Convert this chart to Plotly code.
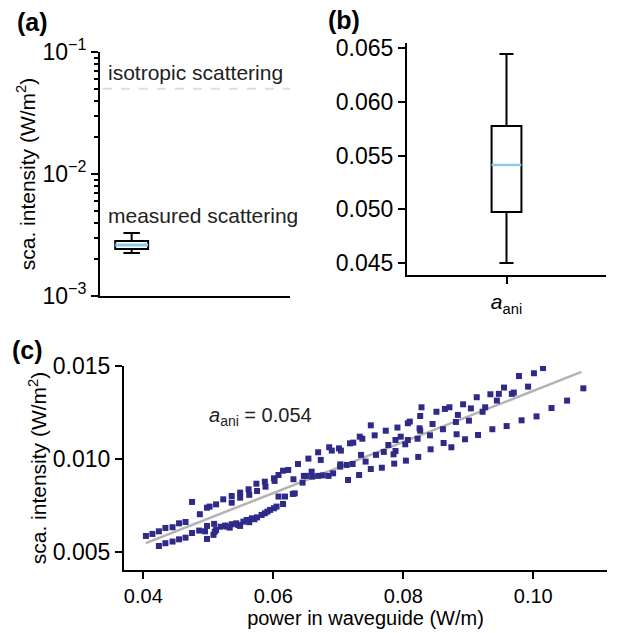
import math
import plotly.graph_objects as go

# ---------------- data ----------------
# panel (a): box statistics of measured scattering intensity (W/m^2)
meas_labels = ["lowerfence", "q1", "median", "q3", "upperfence"]
meas_values = [0.00225, 0.00243, 0.00262, 0.00282, 0.00328]
iso_value = 0.05  # isotropic scattering level

# panel (b): box statistics of a_ani
aani_values = [0.0450, 0.04974, 0.05412, 0.05774, 0.06444]

# panel (c): scattered intensity vs power in waveguide
power = [
    0.0404, 0.0414, 0.0424, 0.0434, 0.0445, 0.0455, 0.0465, 0.0475, 0.0487, 0.0498,
    0.0502, 0.0512, 0.0523, 0.0536, 0.0536, 0.0549, 0.0549, 0.0562, 0.0563, 0.0574,
    0.0575, 0.0587, 0.0588, 0.0601, 0.0602, 0.0608, 0.0615, 0.0623, 0.0631, 0.0638,
    0.0654, 0.0669, 0.0673, 0.0686, 0.0690, 0.0701, 0.0704, 0.0718, 0.0723, 0.0733,
    0.0737, 0.0750, 0.0756,
    0.0424, 0.0434, 0.0445, 0.0455, 0.0465, 0.0475, 0.0486, 0.0495, 0.0498, 0.0498,
    0.0509, 0.0510, 0.0508, 0.0512, 0.0519, 0.0526, 0.0529, 0.0533, 0.0536, 0.0543,
    0.0546, 0.0549, 0.0554, 0.0559, 0.0563, 0.0567, 0.0571, 0.0575, 0.0582, 0.0587,
    0.0591, 0.0595, 0.0601, 0.0605, 0.0608, 0.0615, 0.0618, 0.0630, 0.0633, 0.0645,
    0.0647, 0.0651, 0.0659, 0.0660, 0.0669, 0.0676, 0.0685, 0.0692, 0.0703, 0.0703,
    0.0713, 0.0715, 0.0722, 0.0732, 0.0735, 0.0750, 0.0758,
    0.0773, 0.0791, 0.0807, 0.0810, 0.0828, 0.0826, 0.0825, 0.0826, 0.0845, 0.0851,
    0.0864, 0.0871, 0.0861, 0.0884, 0.0881, 0.0892, 0.0904, 0.0901, 0.0913, 0.0922,
    0.0926, 0.0934, 0.0947, 0.0944, 0.0955, 0.0967, 0.0970, 0.0978, 0.0992, 0.1001,
    0.1015,
    0.0788, 0.0796, 0.0807, 0.0803, 0.0822, 0.0841, 0.0882, 0.0895, 0.0915, 0.0937,
    0.0959, 0.0982, 0.1005, 0.1028, 0.1052, 0.1077,
    0.0788, 0.0785, 0.0770, 0.0767, 0.0786, 0.0804, 0.0823, 0.0842, 0.0862, 0.0874,
    0.0777, 0.0742,
]
intensity = [
    0.00586, 0.00597, 0.00611, 0.00629, 0.00633, 0.00654, 0.00661, 0.00769, 0.00703, 0.00738,
    0.00744, 0.00756, 0.00783, 0.00801, 0.00765, 0.00819, 0.00792, 0.00837, 0.00807, 0.00867,
    0.00828, 0.00878, 0.00851, 0.00896, 0.00882, 0.00914, 0.00937, 0.00941, 0.00891, 0.00973,
    0.01002, 0.01036, 0.00995, 0.01063, 0.01045, 0.01057, 0.01045, 0.01084, 0.01088, 0.01120,
    0.01109, 0.01181, 0.01127,
    0.00532, 0.00547, 0.00556, 0.00568, 0.00577, 0.00602, 0.00615, 0.00611, 0.00570, 0.00640,
    0.00651, 0.00609, 0.00592, 0.00618, 0.00636, 0.00642, 0.00636, 0.00631, 0.00649, 0.00654,
    0.00645, 0.00640, 0.00663, 0.00672, 0.00660, 0.00681, 0.00676, 0.00686, 0.00699, 0.00708,
    0.00717, 0.00726, 0.00735, 0.00744, 0.00798, 0.00758, 0.00798, 0.00812, 0.00815, 0.00873,
    0.00909, 0.00909, 0.00932, 0.00905, 0.00909, 0.00912, 0.00909, 0.00923, 0.00959, 0.00971,
    0.00968, 0.00887, 0.00973, 0.00914, 0.01022, 0.00946, 0.01022,
    0.01152, 0.01169, 0.01192, 0.01201, 0.01278, 0.01231, 0.01165, 0.01152, 0.01188, 0.01254,
    0.01269, 0.01278, 0.01160, 0.01237, 0.01199, 0.01294, 0.01272, 0.01206, 0.01332, 0.01254,
    0.01278, 0.01348, 0.01350, 0.01314, 0.01384, 0.01350, 0.01357, 0.01446, 0.01389, 0.01461,
    0.01489,
    0.01102, 0.01120, 0.01102, 0.01079, 0.01109, 0.01127, 0.01133, 0.01106, 0.01129, 0.01160,
    0.01177, 0.01208, 0.01229, 0.01274, 0.01314, 0.01380,
    0.01043, 0.01025, 0.01038, 0.00953, 0.00975, 0.00991, 0.01011, 0.01052, 0.01086, 0.01063,
    0.01075, 0.00986,
]
fit_power = [0.0404, 0.1074]
fit_intensity = [0.00548, 0.01468]
aani_fit = 0.054

log_ticks = [0.001, 0.01, 0.1]
log_ticktext = ["10<sup>\u22123</sup>", "10<sup>\u22122</sup>", "10<sup>\u22121</sup>"]
b_ticks = [0.045, 0.050, 0.055, 0.060, 0.065]
c_xticks = [0.04, 0.06, 0.08, 0.10]
c_yticks = [0.005, 0.010, 0.015]

# ---------------- styles ----------------
FONT = "Liberation Sans, Arial, Helvetica, sans-serif"
FS = 20      # x title / texts
FST = 21     # y titles
FSY = 23     # y tick labels
FSX = 20     # x tick labels
MEDIAN_C = "#87CEEB"
DOT_C = "#2E2B88"
W = 618
H = 633

def px_x(p):
    return p / W

def px_y(p):
    return 1 - p / H

fig = go.Figure()

# ---- panel (a) ----
box_w_a = 0.52
fig.add_trace(go.Box(
    x=[0], lowerfence=[meas_values[0]], q1=[meas_values[1]], median=[meas_values[2]],
    q3=[meas_values[3]], upperfence=[meas_values[4]],
    width=box_w_a, whiskerwidth=0.5, fillcolor="white",
    line=dict(color="black", width=2), boxpoints=False,
    xaxis="x", yaxis="y", showlegend=False, hoverinfo="skip"))
fig.add_trace(go.Scatter(
    x=[-box_w_a / 2, box_w_a / 2], y=[meas_values[2]] * 2, mode="lines",
    line=dict(color=MEDIAN_C, width=3), xaxis="x", yaxis="y", showlegend=False,
    hoverinfo="skip"))
fig.add_shape(type="line", xref="x domain", yref="y", x0=0.015, x1=1,
              y0=iso_value, y1=iso_value,
              line=dict(color="#dddddd", width=2, dash="dash"))

# ---- panel (b) ----
box_w_b = 0.15
fig.add_trace(go.Box(
    x=[0], lowerfence=[aani_values[0]], q1=[aani_values[1]], median=[aani_values[2]],
    q3=[aani_values[3]], upperfence=[aani_values[4]],
    width=box_w_b, whiskerwidth=0.47, fillcolor="white",
    line=dict(color="black", width=2), boxpoints=False,
    xaxis="x2", yaxis="y2", showlegend=False, hoverinfo="skip"))
fig.add_trace(go.Scatter(
    x=[-box_w_b / 2, box_w_b / 2], y=[aani_values[2]] * 2, mode="lines",
    line=dict(color=MEDIAN_C, width=2.5), xaxis="x2", yaxis="y2", showlegend=False,
    hoverinfo="skip"))

# ---- panel (c) ----
fig.add_trace(go.Scatter(
    x=fit_power, y=fit_intensity, mode="lines",
    line=dict(color="#b3b3b3", width=2.5), xaxis="x3", yaxis="y3",
    showlegend=False, hoverinfo="skip"))
fig.add_trace(go.Scatter(
    x=power, y=intensity, mode="markers",
    marker=dict(symbol="square", size=6, color=DOT_C, line=dict(width=0)),
    xaxis="x3", yaxis="y3", showlegend=False))

axis_common = dict(showline=True, linecolor="black", linewidth=2, showgrid=False,
                   zeroline=False, ticks="outside", ticklen=7, tickwidth=2,
                   tickcolor="black", automargin=False)
ytick_font = dict(size=FSY, color="black")
xtick_font = dict(size=FSX, color="black")

minor_vals = [k * 10 ** e for e in (-3, -2) for k in range(2, 10)]

fig.update_layout(
    width=W, height=H, margin=dict(l=0, r=0, t=0, b=0),
    paper_bgcolor="white", plot_bgcolor="white",
    font=dict(family=FONT, size=FS, color="black"),
    showlegend=False,
    xaxis=dict(domain=[px_x(100), px_x(290)], range=[-0.5, 2.5], anchor="y",
               showline=True, linecolor="black", linewidth=2, showgrid=False,
               zeroline=False, showticklabels=False, ticks="", automargin=False),
    yaxis=dict(axis_common, domain=[px_y(296), px_y(52)], type="log", range=[-3, -1],
               anchor="x", tickmode="array", tickvals=log_ticks, ticktext=log_ticktext,
               tickfont=ytick_font,
               minor=dict(ticks="outside", ticklen=4, tickwidth=1.5, tickcolor="black",
                          tickvals=minor_vals),
               title=dict(text="sca. intensity (W/m<sup>2</sup>)", standoff=1,
                          font=dict(size=FST))),
    xaxis2=dict(axis_common, domain=[px_x(407), px_x(606)], range=[-0.5, 0.5], anchor="y2",
                tickmode="array", tickvals=[0], ticktext=["<i>a</i><sub>ani</sub>"],
                tickfont=dict(size=21, color="black")),
    yaxis2=dict(axis_common, domain=[px_y(275), px_y(43)], range=[0.04388, 0.06547],
                anchor="x2", tickmode="array", tickvals=b_ticks,
                ticktext=["%.3f" % v for v in b_ticks], tickfont=ytick_font),
    xaxis3=dict(axis_common, domain=[px_x(124), px_x(607)], range=[0.03703, 0.11134],
                anchor="y3", tickmode="array", tickvals=c_xticks,
                ticktext=["%.2f" % v for v in c_xticks], tickfont=xtick_font,
                title=dict(text="power in waveguide (W/m)", standoff=0,
                           font=dict(size=FS))),
    yaxis3=dict(axis_common, domain=[px_y(570), px_y(366)], range=[0.00403, 0.015],
                anchor="x3", tickmode="array", tickvals=c_yticks,
                ticktext=["%.3f" % v for v in c_yticks], tickfont=ytick_font,
                title=dict(text="sca. intensity (W/m<sup>2</sup>)", standoff=0,
                           font=dict(size=FST))),
)

annotations = [
    dict(text="<b>(a)</b>", x=px_x(15), y=px_y(22), xref="paper", yref="paper",
         xanchor="left", yanchor="middle", showarrow=False, font=dict(size=25)),
    dict(text="<b>(b)</b>", x=px_x(326), y=px_y(20), xref="paper", yref="paper",
         xanchor="left", yanchor="middle", showarrow=False, font=dict(size=25)),
    dict(text="<b>(c)</b>", x=px_x(10), y=px_y(350), xref="paper", yref="paper",
         xanchor="left", yanchor="middle", showarrow=False, font=dict(size=25)),
    dict(text="isotropic scattering", x=0.03, y=math.log10(iso_value) + 0.13,
         xref="x domain", yref="y", xanchor="left", yanchor="middle",
         showarrow=False, font=dict(size=21, color="#222222")),
    dict(text="measured scattering", x=0.03, y=math.log10(meas_values[4]) + 0.145,
         xref="x domain", yref="y", xanchor="left", yanchor="middle",
         showarrow=False, font=dict(size=21, color="#222222")),
    dict(text="<i>a</i><sub>ani</sub> = %.3f" % aani_fit, x=0.0498, y=0.01226,
         xref="x3", yref="y3", xanchor="left", yanchor="middle",
         showarrow=False, font=dict(size=FS, color="#222222")),
]
fig.update_layout(annotations=annotations)

fig.write_html("out.html")
